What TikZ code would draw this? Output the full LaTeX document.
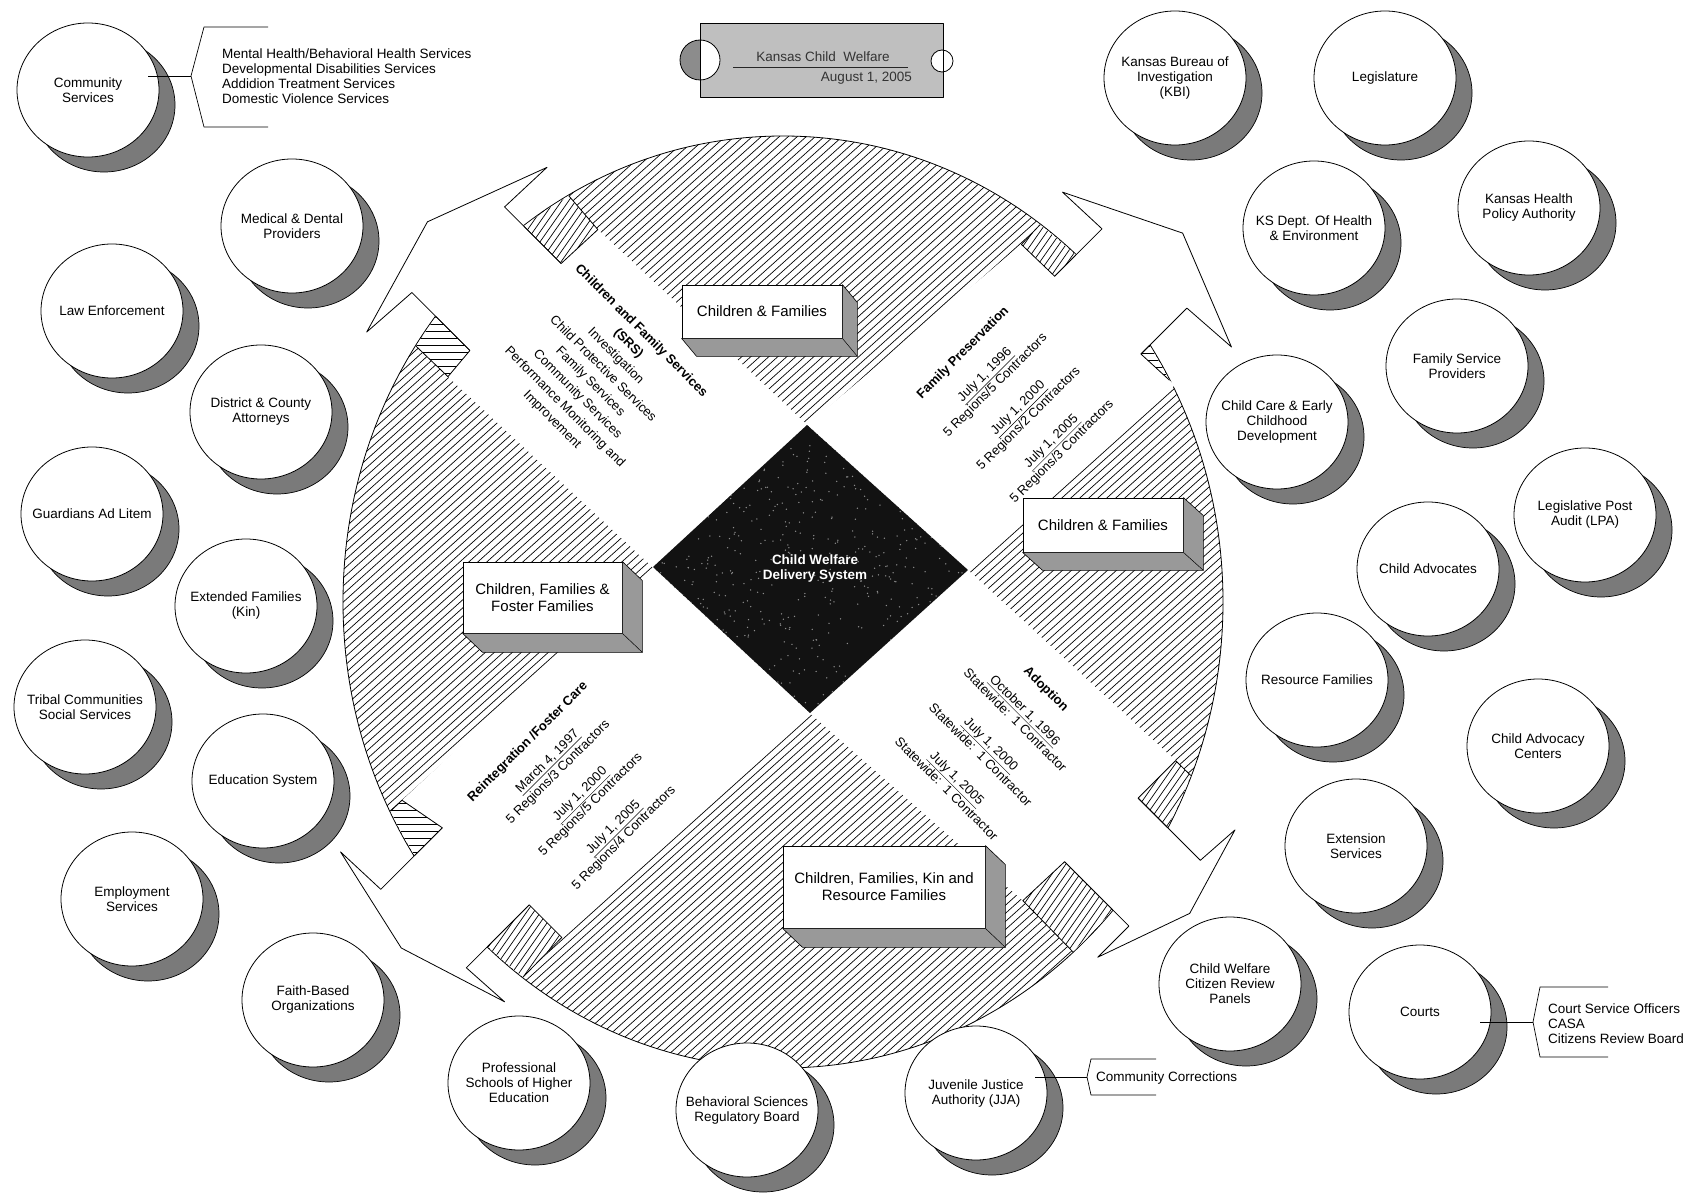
\documentclass[tikz,border=0pt]{standalone}
\usepackage{fontspec}
\setmainfont{Liberation Sans}
\usetikzlibrary{calc}

\newcommand\orgc[4]{%
  \draw[orgshadow] ({#2+16},{#3+15}) ellipse [x radius=71pt, y radius=67pt];
  \draw[orgwhite] (#2,#3) ellipse [x radius=71pt, y radius=67pt];
  \node[orglbl] (#1) at (#2,#3) {#4};}
\newcommand\hatchH[2]{\foreach \hh in {-100,-93,...,100}{\draw[hl] (0,{#2+\hh}) -- (1700,{#2+\hh});}}
\newcommand\hatchD[2]{\foreach \hh in {-150,-143,...,150}{\draw[hl] ({#1+0.7*#2+\hh},0) -- ({#1+0.7*#2+\hh-840},1200);}}
\newcommand\stripfill[5]{%
  \begin{scope}
    \clip (783,602) ellipse [x radius=439.2pt, y radius=465.2pt];
    \begin{scope}[shift={(810,569)}, rotate=#1]
      \fill[white] #2;
      \clip #2;
      \begin{scope}[reset cm]#3{#4}{#5}\end{scope}
    \end{scope}
    \begin{scope}[shift={(810,569)}, rotate=#1]
      \draw[outl] #2;
    \end{scope}
  \end{scope}}

\begin{document}
\begin{tikzpicture}[x=1pt,y=-1pt, line join=round,
  hl/.style={line width=0.7pt},
  outl/.style={line width=0.8pt},
  orgshadow/.style={fill=black!52, draw=black, line width=0.7pt},
  orgwhite/.style={fill=white, draw=black, line width=0.8pt},
  orglbl/.style={font=\fontsize{13.5}{15}\selectfont, align=center, inner sep=0pt},
  listtxt/.style={font=\fontsize{13.5}{15}\selectfont, align=left, inner sep=0pt, anchor=west},
  bracket/.style={line width=0.7pt},
  bandtxt/.style={align=center, inner sep=0pt},
  boxw/.style={draw=black, fill=white, line width=0.8pt, align=center, font=\fontsize{15}{17}\selectfont, inner sep=0pt},
  boxsh/.style={fill=black!40, draw=black, line width=0.6pt}]

\fill[white] (0,0) rectangle (1700,1201);
\useasboundingbox (0,0) rectangle (1700,1201);

% ---------- hatched disc ----------
\begin{scope}
  \clip (783,602) ellipse [x radius=440pt, y radius=466pt];
  \foreach \kk in {760,769,...,2150}{\draw[hl] (\kk,0) -- ({\kk-1333},1200);}
\end{scope}
\draw[outl] (783,602) ellipse [x radius=440pt, y radius=466pt];

% ---------- white bands ----------
\begin{scope}[shift={(810,569)}, rotate=135]
  \fill[white] (104,100) -- (390,90) -- (392,40) -- (472,40) -- (470,98) -- (516,-25) -- (481,-146) -- (477,-86) -- (395,-86) -- (392,-120) -- (112,-110) -- cycle;
\end{scope}
\begin{scope}[shift={(810,569)}, rotate=45]
  \fill[white] (100,-104) -- (379,-80) -- (380,-34) -- (447,-34) -- (445,-88) -- (501,26) -- (455,141) -- (451,82) -- (386,82) -- (388,128) -- (111,112) -- cycle;
\end{scope}
\begin{scope}[shift={(810,569)}, rotate=-45]
  \fill[white] (112,-111) -- (394,-123) -- (394,-70) -- (482,-70) -- (485,-116) -- (512,-25) -- (478,71) -- (478,27) -- (387,27) -- (385,84) -- (102,102) -- cycle;
\end{scope}
\begin{scope}[shift={(810,569)}, rotate=225]
  \fill[white] (110,112) -- (452,125) -- (443,77) -- (530,77) -- (532,132) -- (557,21) -- (522,-90) -- (525,-39) -- (436,-39) -- (436,-85) -- (102,-102) -- cycle;
\end{scope}

% ---------- side strips ----------
\stripfill{135}{(392,40) -- (472,40) -- (470,96) -- (390,90) -- cycle}{\hatchD}{552}{219}
\stripfill{135}{(395,-86) -- (477,-86) -- (479,-122) -- (392,-120) -- cycle}{\hatchH}{429}{333}
\stripfill{45}{(380,-34) -- (447,-34) -- (446,-82) -- (379,-80) -- cycle}{\hatchD}{1061}{236}
\stripfill{45}{(386,82) -- (451,82) -- (453,130) -- (388,128) -- cycle}{\hatchH}{1180}{348}
\stripfill{-45}{(394,-70) -- (482,-70) -- (485,-124) -- (394,-123) -- cycle}{\hatchD}{1188}{810}
\stripfill{-45}{(387,27) -- (478,27) -- (478,85) -- (385,84) -- cycle}{\hatchD}{1076}{914}
\stripfill{225}{(443,77) -- (530,77) -- (531,127) -- (452,125) -- cycle}{\hatchH}{394}{840}
\stripfill{225}{(436,-39) -- (525,-39) -- (523,-86) -- (436,-85) -- cycle}{\hatchD}{515}{953}

% ---------- arrow outlines ----------
\begin{scope}[shift={(810,569)}, rotate=135]
  \draw[outl] (392,40) -- (472,40) -- (470,98) -- (516,-25) -- (481,-146) -- (477,-86) -- (395,-86);
\end{scope}
\begin{scope}[shift={(810,569)}, rotate=45]
  \draw[outl] (380,-34) -- (447,-34) -- (445,-88) -- (501,26) -- (455,141) -- (451,82) -- (386,82);
\end{scope}
\begin{scope}[shift={(810,569)}, rotate=-45]
  \draw[outl] (394,-70) -- (482,-70) -- (485,-116) -- (512,-25) -- (478,71) -- (478,27) -- (387,27);
\end{scope}
\begin{scope}[shift={(810,569)}, rotate=225]
  \draw[outl] (443,77) -- (530,77) -- (532,132) -- (557,21) -- (522,-90) -- (525,-39) -- (436,-39);
\end{scope}

% ---------- 3D boxes ----------
\node[boxw, minimum width=160pt, minimum height=53pt] (b1) at (762,311.5) {Children \& Families};
\fill[boxsh] (b1.south west) -- ++(15,18) -- ($(b1.south east)+(15,18)$) -- ($(b1.north east)+(15,18)$) -- (b1.north east) -- (b1.south east) -- cycle;
\draw[line width=0.5pt] (b1.south east) -- ++(15,18);

\node[boxw, minimum width=160pt, minimum height=54pt] (b2) at (1103,525) {Children \& Families};
\fill[boxsh] (b2.south west) -- ++(20,18) -- ($(b2.south east)+(20,18)$) -- ($(b2.north east)+(20,18)$) -- (b2.north east) -- (b2.south east) -- cycle;
\draw[line width=0.5pt] (b2.south east) -- ++(20,18);

\node[boxw, minimum width=159pt, minimum height=71pt] (b3) at (542.5,597.5) {Children, Families \&\\Foster Families};
\fill[boxsh] (b3.south west) -- ++(20,19) -- ($(b3.south east)+(20,19)$) -- ($(b3.north east)+(20,19)$) -- (b3.north east) -- (b3.south east) -- cycle;
\draw[line width=0.5pt] (b3.south east) -- ++(20,19);

\node[boxw, minimum width=202pt, minimum height=82pt] (b4) at (884,887) {Children, Families, Kin and\\Resource Families};
\fill[boxsh] (b4.south west) -- ++(20,19) -- ($(b4.south east)+(20,19)$) -- ($(b4.north east)+(20,19)$) -- (b4.north east) -- (b4.south east) -- cycle;
\draw[line width=0.5pt] (b4.south east) -- ++(20,19);

% ---------- central diamond ----------
\coordinate (dT) at (807,425);
\coordinate (dR) at (968,570);
\coordinate (dB) at (810,713);
\coordinate (dL) at (653,567);
\fill[black!93] (dT) -- (dR) -- (dB) -- (dL) -- cycle;
\begin{scope}
  \clip (dT) -- (dR) -- (dB) -- (dL) -- cycle;
  \pgfmathsetseed{11}
  \foreach \ii in {1,...,650}{\fill[black!45] ({653+315*rnd},{425+288*rnd}) circle[radius=0.75pt];}
\end{scope}
\node[font=\bfseries\fontsize{13.5}{15}\selectfont, text=white, align=center, inner sep=0pt] (cwds) at (815,569) {Child Welfare\\Delivery System};

% ---------- band texts ----------
\node[bandtxt, rotate=-45, font=\fontsize{13}{18}\selectfont] (nwtxt) at (596.5,375.5)
  {\textbf{Children and Family Services}\\\textbf{(SRS)}\\Investigation\\Child Protective Services\\Family Services\\Community Services\\Performance Monitoring and\\Improvement};
\node[bandtxt, rotate=45, font=\fontsize{13}{15}\selectfont] (netxt) at (1012.6,402.5)
  {\textbf{Family Preservation}\\[16pt]\underline{July 1, 1996}\\5 Regions/5 Contractors\\[17pt]\underline{July 1, 2000}\\5 Regions/2 Contractors\\[17pt]\underline{July 1, 2005}\\5 Regions/3 Contractors};
\node[bandtxt, rotate=-45, font=\fontsize{13}{14}\selectfont] (setxt) at (996.7,738.7)
  {\textbf{Adoption}\\[16pt]\underline{October 1, 1996}\\Statewide:\ \ 1 Contractor\\[20pt]\underline{July 1, 2000}\\Statewide:\ \ 1 Contractor\\[19pt]\underline{July 1, 2005}\\Statewide:\ \ 1 Contractor};
\node[bandtxt, rotate=45, font=\fontsize{13}{15}\selectfont] (swtxt) at (576,790)
  {\textbf{Reintegration /Foster Care}\\[13pt]\underline{March 4, 1997}\\5 Regions/3 Contractors\\[16pt]\underline{July 1, 2000}\\5 Regions/5 Contractors\\[17pt]\underline{July 1, 2005}\\5 Regions/4 Contractors};

% ---------- title ----------
\fill[black!25] (700,23) rectangle (943,97);
\draw[outl] (700,23) rectangle (943,97);
\fill[black!45] (700,40) arc[start angle=90, end angle=270, radius=20pt] -- cycle;
\fill[white] (700,40) arc[start angle=90, end angle=-90, radius=20pt] -- cycle;
\draw[outl] (700,60) circle[radius=20pt];
\draw[outl] (700,40) -- (700,80);
\fill[white] (942,61) circle[radius=11pt];
\draw[outl] (942,61) circle[radius=11pt];
\draw[outl] (943,50) -- (943,72);
\node[font=\fontsize{13.5}{15}\selectfont, text=black!80, inner sep=0pt] (kcw) at (823,57) {Kansas Child\ \ Welfare};
\coordinate (ulA) at (733,67);
\coordinate (ulB) at (908,67);
\draw[line width=0.9pt, black!85] (ulA) -- (ulB);
\node[font=\fontsize{13.5}{15}\selectfont, text=black!80, inner sep=0pt, anchor=east] (aug) at (912,78) {August 1, 2005};

% ---------- outer circles ----------
\orgc{cs}{88}{90}{Community\\Services}
\orgc{md}{292}{226}{Medical \& Dental\\Providers}
\orgc{le}{112}{311}{Law Enforcement}
\orgc{dca}{261}{412}{District \& County\\Attorneys}
\orgc{gal}{92}{514}{Guardians Ad Litem}
\orgc{ef}{246}{606}{Extended Families\\(Kin)}
\orgc{tc}{85}{707}{Tribal Communities\\Social Services}
\orgc{es}{263}{781}{Education System}
\orgc{ems}{132}{899}{Employment\\Services}
\orgc{fb}{313}{1000}{Faith-Based\\Organizations}
\orgc{ps}{519}{1083}{Professional\\Schools of Higher\\Education}
\orgc{bs}{747}{1110}{Behavioral Sciences\\Regulatory Board}
\orgc{jja}{976}{1093}{Juvenile Justice\\Authority (JJA)}
\orgc{cwc}{1230}{984}{Child Welfare\\Citizen Review\\Panels}
\orgc{courts}{1420}{1012}{Courts}
\orgc{ext}{1356}{846}{Extension\\Services}
\orgc{cac}{1538}{746}{Child Advocacy\\Centers}
\orgc{rf}{1317}{680}{Resource Families}
\orgc{ca}{1428}{569}{Child Advocates}
\orgc{lpa}{1585}{515}{Legislative Post\\Audit (LPA)}
\orgc{cce}{1277}{422}{Child Care \& Early\\Childhood\\Development}
\orgc{fsp}{1457}{366}{Family Service\\Providers}
\orgc{kdhe}{1314}{228}{KS Dept. Of Health\\\& Environment}
\orgc{khpa}{1529}{208}{Kansas Health\\Policy Authority}
\orgc{kbi}{1175}{78}{Kansas Bureau of\\Investigation\\(KBI)}
\orgc{leg}{1385}{78}{Legislature}

% ---------- brackets ----------
\coordinate (csS) at (148,76);
\coordinate (csV) at (191,76);
\coordinate (csT1) at (204,27);
\coordinate (csT2) at (268,27);
\coordinate (csB1) at (204,127);
\coordinate (csB2) at (268,127);
\draw[bracket] (csS) -- (csV);
\draw[bracket] (csT2) -- (csT1) -- (csV) -- (csB1) -- (csB2);
\node[listtxt] (cslist) at (222,76) {Mental Health/Behavioral Health Services\\Developmental Disabilities Services\\Addidion Treatment Services\\Domestic Violence Services};

\coordinate (ctS) at (1480,1022);
\coordinate (ctV) at (1533,1022);
\coordinate (ctT1) at (1540,987);
\coordinate (ctT2) at (1608,987);
\coordinate (ctB1) at (1540,1057);
\coordinate (ctB2) at (1608,1057);
\draw[bracket] (ctS) -- (ctV);
\draw[bracket] (ctT2) -- (ctT1) -- (ctV) -- (ctB1) -- (ctB2);
\node[listtxt] (ctlist) at (1548,1024) {Court Service Officers\\CASA\\Citizens Review Board};

\coordinate (jjS) at (1035,1077);
\coordinate (jjV) at (1087,1077);
\coordinate (jjT1) at (1091,1059);
\coordinate (jjT2) at (1156,1059);
\coordinate (jjB1) at (1091,1095);
\coordinate (jjB2) at (1156,1095);
\draw[bracket] (jjS) -- (jjV);
\draw[bracket] (jjT2) -- (jjT1) -- (jjV) -- (jjB1) -- (jjB2);
\node[listtxt] (jjlist) at (1096,1078) {Community Corrections};

\end{tikzpicture}
\end{document}
